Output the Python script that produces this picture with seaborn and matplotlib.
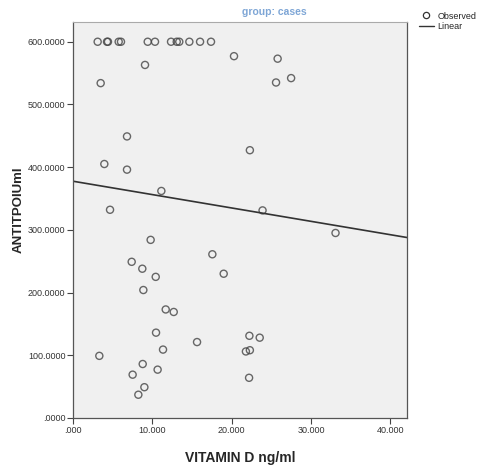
import numpy as np
import pandas as pd
import matplotlib
matplotlib.use("Agg")
import matplotlib.pyplot as plt
import seaborn as sns
from matplotlib.ticker import FuncFormatter
from matplotlib.lines import Line2D

# values
vitamin_d = [3.11, 4.29, 4.41, 5.76, 6.05, 9.42, 10.34, 12.36, 13.08, 13.40, 14.67, 16.02, 17.40,
             3.49, 9.08, 20.30, 25.80, 25.60, 27.50,
             6.81, 3.95, 6.81, 22.30, 11.14, 4.67, 23.90, 33.10, 9.79, 17.57,
             7.40, 8.74, 10.43, 19.00, 8.87, 11.69, 12.70, 10.47, 15.64, 11.35, 3.32,
             22.24, 23.54, 21.80, 22.30, 8.79, 7.52, 10.67, 22.20, 9.00, 8.24]
antitpo = [600, 600, 600, 600, 600, 600, 600, 600, 600, 600, 600, 600, 600,
           534, 563, 577, 573, 535, 542,
           449, 405, 396, 427, 362, 332, 331, 295, 284, 261,
           249, 238, 225, 230, 204, 173, 169, 136, 121, 109, 99,
           131, 128, 106, 108, 86, 69, 77, 64, 49, 37]

x_ticks = [0, 10, 20, 30, 40]
y_ticks = [0, 100, 200, 300, 400, 500, 600]

df = pd.DataFrame({"VITAMIN D ng/ml": vitamin_d, "ANTITPOIUml": antitpo})

sns.set_style("white")
plt.rcParams["font.family"] = ["Liberation Sans", "DejaVu Sans"]

fig = plt.figure(figsize=(4.85, 4.68), dpi=100)
ax = fig.add_axes([0.1505, 0.107, 0.6885, 0.846])
ax.set_facecolor("#f0f0f0")
ax.set_xlim(0, 42.1)
ax.set_ylim(0, 631.5)

# observed points + least squares line over the full x range
sns.regplot(data=df, x="VITAMIN D ng/ml", y="ANTITPOIUml", ax=ax, ci=None, truncate=False,
            scatter_kws=dict(s=26, facecolors="none", edgecolors="#444444", linewidths=1.0),
            line_kws=dict(color="#333333", lw=1.2))


def strip_zero(fmt):
    def f(v, pos):
        s = fmt.format(v)
        return s[1:] if s.startswith("0.") else s
    return f


ax.set_xticks(x_ticks)
ax.set_yticks(y_ticks)
ax.xaxis.set_major_formatter(FuncFormatter(strip_zero("{:.3f}")))
ax.yaxis.set_major_formatter(FuncFormatter(strip_zero("{:.4f}")))
ax.tick_params(axis="both", direction="out", length=4, width=0.8, color="#444444",
               labelsize=6.5, labelcolor="#333333", left=True, bottom=True, pad=1.5)

for side in ["left", "bottom", "right"]:
    ax.spines[side].set_color("#555555")
    ax.spines[side].set_linewidth(0.9)
ax.spines["top"].set_color("#aaaaaa")

ax.set_xlabel("VITAMIN D ng/ml", fontsize=10, fontweight="bold", labelpad=12)
ax.set_ylabel("ANTITPOIUml", fontsize=9.5, fontweight="bold")
ax.yaxis.set_label_coords(-0.144, 0.525)

fig.text(0.565, 0.975, "group: cases", ha="center", va="center", fontsize=7.5,
         fontweight="bold", color="#7ea6d6")

handles = [Line2D([], [], ls="none", marker="o", mfc="none", mec="#333333", ms=4.5, mew=0.9),
           Line2D([], [], color="#333333", lw=1.0)]
fig.legend(handles, ["Observed", "Linear"], loc="upper left", bbox_to_anchor=(0.855, 0.985),
           frameon=False, fontsize=6.5, handlelength=1.6, handletextpad=0.4,
           labelspacing=0.2, borderpad=0)

fig.savefig("out.png", dpi=100, facecolor="white")
